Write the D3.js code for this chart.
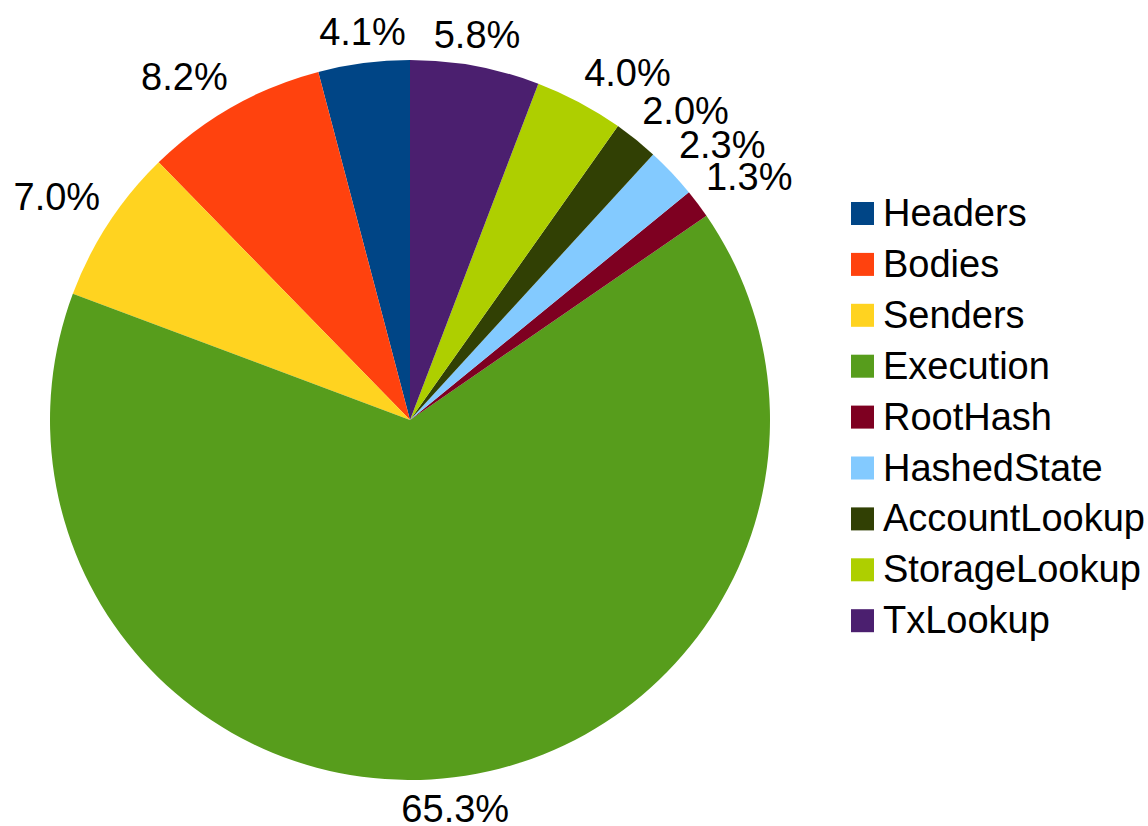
<!DOCTYPE html>
<html>
<head>
<meta charset="utf-8">
<script src="https://cdn.jsdelivr.net/npm/d3@7"></script>
<style>
  html, body { margin: 0; padding: 0; background: #fff; overflow: hidden; }
  svg { display: block; }
  text { font-family: "Liberation Sans", Arial, sans-serif; fill: #000; }
</style>
</head>
<body>
<div id="chart"></div>
<script>
  // data, in counterclockwise order from 12 o'clock
  const categories = ['Headers', 'Bodies', 'Senders', 'Execution', 'RootHash',
    'HashedState', 'AccountLookup', 'StorageLookup', 'TxLookup'];
  const shares = [4.1, 8.2, 7.0, 65.3, 1.3, 2.3, 2.0, 4.0, 5.8];
  const colors = ['#004586', '#ff420e', '#ffd320', '#579d1c', '#7e0021',
    '#83caff', '#314004', '#aecf00', '#4b1f6f'];

  const W = 1148, H = 826;
  const cx = 410, cy = 420, radius = 360;
  const fontSize = 38;
  const ascent = 0.905 * fontSize, descent = 0.212 * fontSize;
  const labelGap = 10;

  const rows = categories.map((name, i) => ({ name, value: shares[i], color: colors[i] }));

  const svg = d3.select('#chart').append('svg')
    .attr('width', W)
    .attr('height', H);

  // counterclockwise pie: angles go from 0 down to -2PI
  const pie = d3.pie()
    .value(d => d.value)
    .sort(null)
    .startAngle(0)
    .endAngle(-2 * Math.PI);

  const arcs = pie(rows);
  const arc = d3.arc().innerRadius(0).outerRadius(radius);

  const g = svg.append('g').attr('transform', `translate(${cx},${cy})`);

  g.selectAll('path.slice')
    .data(arcs)
    .enter()
    .append('path')
    .attr('class', 'slice')
    .attr('fill', d => d.data.color)
    .attr('d', arc);

  // labels placed outside, aligned by sector (8 directions)
  function placeLabel(d) {
    const a = (d.startAngle + d.endAngle) / 2; // clockwise from top
    const r = radius + labelGap;
    const x = Math.sin(a) * r;
    const y = -Math.cos(a) * r;
    let deg = (90 - a * 180 / Math.PI) % 360; // math angle
    if (deg < 0) deg += 360;
    let anchor, baseline;
    if (deg < 22.5 || deg >= 337.5) { anchor = 'start'; baseline = y + (ascent - descent) / 2; }
    else if (deg < 67.5) { anchor = 'start'; baseline = y - descent; }
    else if (deg < 112.5) { anchor = 'middle'; baseline = y - descent; }
    else if (deg < 157.5) { anchor = 'end'; baseline = y - descent; }
    else if (deg < 202.5) { anchor = 'end'; baseline = y + (ascent - descent) / 2; }
    else if (deg < 247.5) { anchor = 'end'; baseline = y + ascent; }
    else if (deg < 292.5) { anchor = 'middle'; baseline = y + ascent; }
    else { anchor = 'start'; baseline = y + ascent; }
    return { x, y: baseline, anchor };
  }

  g.selectAll('text.label')
    .data(arcs)
    .enter()
    .append('text')
    .attr('class', 'label')
    .attr('font-size', fontSize)
    .each(function (d) {
      const p = placeLabel(d);
      d3.select(this)
        .attr('x', p.x)
        .attr('y', p.y)
        .attr('text-anchor', p.anchor);
    })
    .text(d => d.data.value.toFixed(1) + '%');

  // legend
  const legendX = 851, legendY = 202, rowStep = 50.9, box = 23;
  const legend = svg.append('g').attr('class', 'legend');
  const item = legend.selectAll('g')
    .data(rows)
    .enter()
    .append('g')
    .attr('transform', (d, i) => `translate(${legendX},${legendY + i * rowStep})`);

  item.append('rect')
    .attr('width', box)
    .attr('height', box)
    .attr('fill', d => d.color);

  item.append('text')
    .attr('x', 32)
    .attr('y', box + 1)
    .attr('font-size', fontSize)
    .text(d => d.name);
</script>
</body>
</html>
